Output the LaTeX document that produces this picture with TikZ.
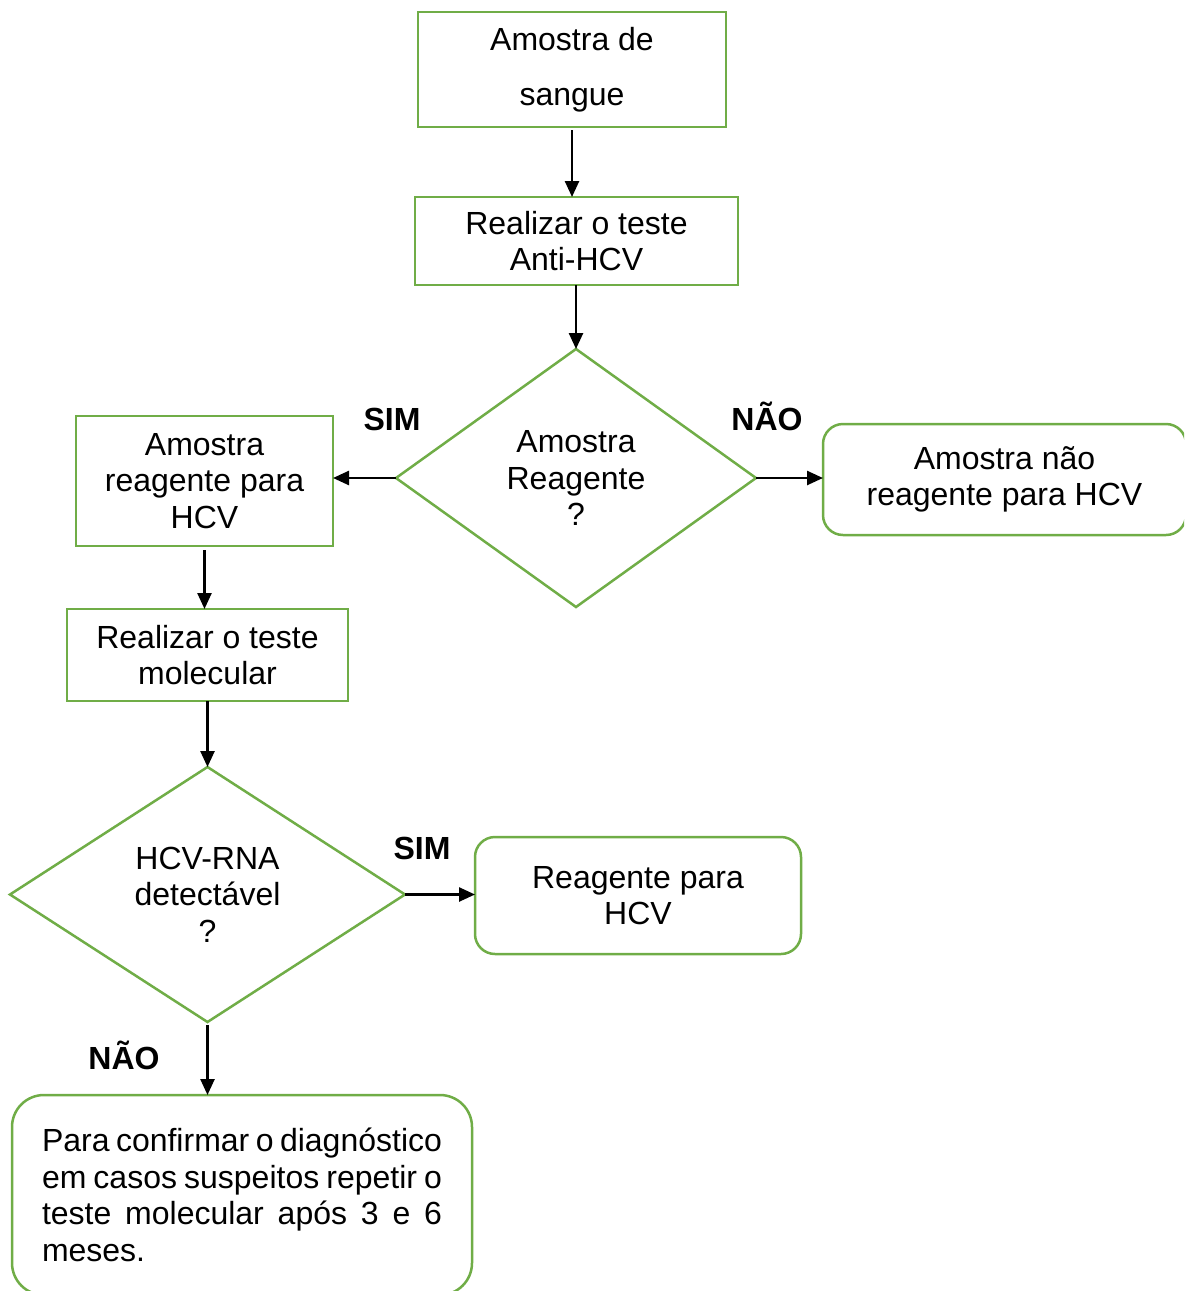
\documentclass[tikz,border=0pt]{standalone}
\usepackage{fontspec}
\setmainfont{Liberation Sans}
\usetikzlibrary{shapes.geometric,arrows.meta}
\definecolor{gr}{HTML}{70AD47}
\tikzset{
  base/.style={draw=gr, line width=2.5pt, outer sep=0pt, inner sep=0pt, align=center,
    font=\fontsize{32pt}{36.5pt}\selectfont},
  box/.style={base, rectangle},
  rbox/.style={base, rectangle, rounded corners=20pt},
  dia/.style={base, diamond, aspect=1.4},
  arr/.style={draw=black, line width=2.5pt, -{Triangle[length=16pt,width=14pt]}},
  lab/.style={font=\fontsize{32pt}{36pt}\selectfont\bfseries, inner sep=0pt}
}
\begin{document}
\begin{tikzpicture}[x=1pt,y=-1pt]
\useasboundingbox (0,0) rectangle (1184,1291);
\clip (0,0) rectangle (1184,1291);
\node[box, minimum width=308pt, minimum height=115pt] (b1) at (572,69.5)
  {Amostra de\\[18.5pt]sangue};
\node[box, minimum width=323pt, minimum height=88pt] (b2) at (576.5,241)
  {Realizar o teste\\Anti-HCV};
\node[dia, minimum width=360pt, minimum height=258pt] (d1) at (576,478)
  {Amostra\\Reagente\\?};
\node[box, minimum width=257pt, minimum height=130pt] (b3) at (204.5,481)
  {Amostra\\reagente para\\HCV};
\node[rbox, minimum width=363pt, minimum height=111pt] (b4) at (1004.5,479.5)
  {Amostra não\\reagente para HCV};
\node[box, minimum width=281pt, minimum height=92pt] (b5) at (207.5,655)
  {Realizar o teste\\molecular};
\node[dia, minimum width=395pt, minimum height=255pt] (d2) at (207.5,894.5)
  {HCV-RNA\\detectável\\?};
\node[rbox, minimum width=326pt, minimum height=117pt] (b6) at (638,895.5)
  {Reagente para\\HCV};
\node[rbox, rounded corners=32pt, minimum width=460pt, minimum height=200pt, align=left] (b7) at (242,1195)
  {\makebox[400pt][s]{Para confirmar o diagnóstico}\\
   \makebox[400pt][s]{em casos suspeitos repetir o}\\
   \makebox[400pt][s]{teste molecular após 3 e 6}\\
   meses.};
\node[lab] (s1) at (392,419) {SIM};
\node[lab] (n1) at (767,416) {NÃO};
\node[lab] (s2) at (422,848) {SIM};
\node[lab] (n2) at (124,1055) {NÃO};
\draw[arr] ([yshift=-3pt]b1.south) -- (b1.south |- b2.north);
\draw[arr] (d1.north |- b2.south) -- (d1.north);
\draw[arr] (d1.west) -- (b3.east |- d1.west);
\draw[arr] (d1.east) -- (b4.west |- d1.east);
\draw[arr] ([yshift=-4pt]b3.south) -- (b3.south |- b5.north);
\draw[arr] (b5.south) -- (d2.north);
\draw[arr] (d2.east) -- (b6.west |- d2.east);
\draw[arr] ([yshift=-3pt]d2.south) -- (d2.south |- b7.north);
\end{tikzpicture}
\end{document}
